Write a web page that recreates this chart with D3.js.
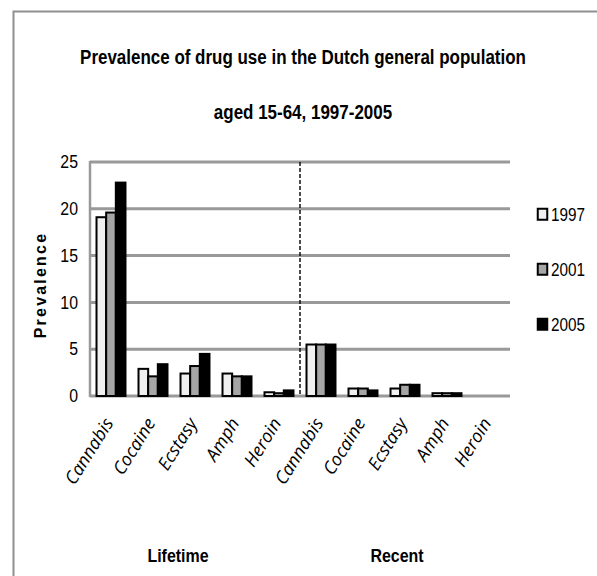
<!DOCTYPE html>
<html>
<head>
<meta charset="utf-8">
<script src="https://cdn.jsdelivr.net/npm/d3@7"></script>
<style>
  html, body { margin: 0; padding: 0; background: #fff; }
  svg { display: block; }
  .narrow { font-family: "Liberation Sans", Arial, sans-serif; }
</style>
</head>
<body>
<svg id="chart" width="597" height="576"></svg>
<script>
// Drug categories, first five lifetime use, next five recent use
const categories = ["Cannabis", "Cocaine", "Ecstasy", "Amph", "Heroin",
                    "Cannabis", "Cocaine", "Ecstasy", "Amph", "Heroin"];
const years = ["1997", "2001", "2005"];
const values1997 = [19.1, 2.9, 2.4, 2.4, 0.4, 5.5, 0.8, 0.8, 0.3, 0.0];
const values2001 = [19.6, 2.1, 3.2, 2.1, 0.3, 5.5, 0.8, 1.2, 0.3, 0.0];
const values2005 = [22.8, 3.4, 4.5, 2.1, 0.6, 5.5, 0.6, 1.2, 0.3, 0.0];
const yTicks = [0, 5, 10, 15, 20, 25];
const groupLabels = ["Lifetime", "Recent"];
const titleLines = ["Prevalence of drug use in the Dutch general population", "aged 15-64, 1997-2005"];

const series = [values1997, values2001, values2005];
const fills = ["#f0f0f0", "#a6a6a6", "#000000"];

const svg = d3.select("#chart");
const plot = { left: 90, right: 510, top: 162, bottom: 396 };

// Squeeze text horizontally to get a condensed face
function condense(sel, factor) {
  sel.each(function () {
    const w = this.getComputedTextLength();
    d3.select(this).attr("textLength", w * factor).attr("lengthAdjust", "spacingAndGlyphs");
  });
}

// Outer frame (left and top edges)
svg.append("path")
  .attr("d", "M13.5,576 L13.5,11.5 L597,11.5")
  .attr("fill", "none").attr("stroke", "#8f8f8f").attr("stroke-width", 2);

// Title
svg.append("g").selectAll("text").data(titleLines).join("text")
  .attr("class", "narrow")
  .attr("x", 303).attr("y", (d, i) => 64 + i * 55)
  .attr("text-anchor", "middle")
  .attr("font-weight", "bold").attr("font-size", 19.5)
  .text(d => d)
  .call(condense, 0.87);

const x = d3.scaleBand().domain(d3.range(categories.length))
  .range([plot.left, plot.right]).paddingInner(0.31).paddingOuter(0.155);
const xSub = d3.scaleBand().domain(d3.range(years.length)).range([0, x.bandwidth()]);
const y = d3.scaleLinear().domain([0, 25]).range([plot.bottom, plot.top]);

// Gridlines
svg.append("g").selectAll("line").data(yTicks).join("line")
  .attr("x1", plot.left).attr("x2", plot.right)
  .attr("y1", d => y(d)).attr("y2", d => y(d))
  .attr("stroke", "#999").attr("stroke-width", 3);

// Vertical axis line
svg.append("line")
  .attr("x1", plot.left).attr("x2", plot.left)
  .attr("y1", plot.top - 1).attr("y2", plot.bottom + 1)
  .attr("stroke", "#999").attr("stroke-width", 2.5);

// Y tick labels
const yAxis = svg.append("g").attr("transform", `translate(${plot.left},0)`)
  .call(d3.axisLeft(y).tickValues(yTicks).tickSize(0).tickPadding(12));
yAxis.select(".domain").remove();
yAxis.selectAll("text").attr("class", "narrow").attr("font-size", 18).attr("fill", "#000")
  .call(condense, 0.88);

// Y axis title
svg.append("text")
  .attr("transform", "translate(46,285) rotate(-90)")
  .attr("text-anchor", "middle")
  .attr("font-family", "'Liberation Sans', sans-serif")
  .attr("font-weight", "bold").attr("font-size", 16)
  .attr("letter-spacing", 2.2)
  .text("Prevalence");

// Divider between lifetime and recent
const mid = (x(4) + x.bandwidth() + x(5)) / 2;
svg.append("line")
  .attr("x1", mid).attr("x2", mid)
  .attr("y1", plot.top).attr("y2", plot.bottom)
  .attr("stroke", "#000").attr("stroke-width", 1.4).attr("stroke-dasharray", "4,2");

// Bars
series.forEach((vals, s) => {
  svg.append("g").selectAll("rect").data(vals).join("rect")
    .attr("x", (d, i) => x(i) + xSub(s))
    .attr("width", xSub.bandwidth())
    .attr("y", d => y(d))
    .attr("height", d => y(0) - y(d))
    .attr("fill", fills[s])
    .attr("stroke", "#000").attr("stroke-width", d => d > 0 ? 2 : 0);
});

// Category labels
svg.append("g").selectAll("text").data(categories).join("text")
  .attr("transform", (d, i) => `translate(${x(i) + x.bandwidth() / 2 + 3},${plot.bottom + 27}) rotate(-58)`)
  .attr("text-anchor", "end")
  .attr("font-family", "'Open Sans', 'DejaVu Sans', sans-serif")
  .attr("font-style", "italic").attr("font-size", 18)
  .text(d => d);

// Group labels
svg.append("g").selectAll("text").data(groupLabels).join("text")
  .attr("class", "narrow")
  .attr("x", (d, i) => i === 0 ? 178 : 397).attr("y", 562)
  .attr("text-anchor", "middle")
  .attr("font-weight", "bold").attr("font-size", 19)
  .text(d => d)
  .call(condense, 0.84);

// Legend
const legend = svg.append("g").selectAll("g").data(years).join("g")
  .attr("transform", (d, i) => `translate(537,${208 + i * 55})`);
legend.append("rect")
  .attr("x", 0.75).attr("y", 0.75).attr("width", 9.5).attr("height", 11)
  .attr("fill", (d, i) => fills[i]).attr("stroke", "#000").attr("stroke-width", 2);
legend.append("text")
  .attr("class", "narrow")
  .attr("x", 14).attr("y", 13)
  .attr("font-size", 18)
  .text(d => d)
  .call(condense, 0.85);
</script>
</body>
</html>
